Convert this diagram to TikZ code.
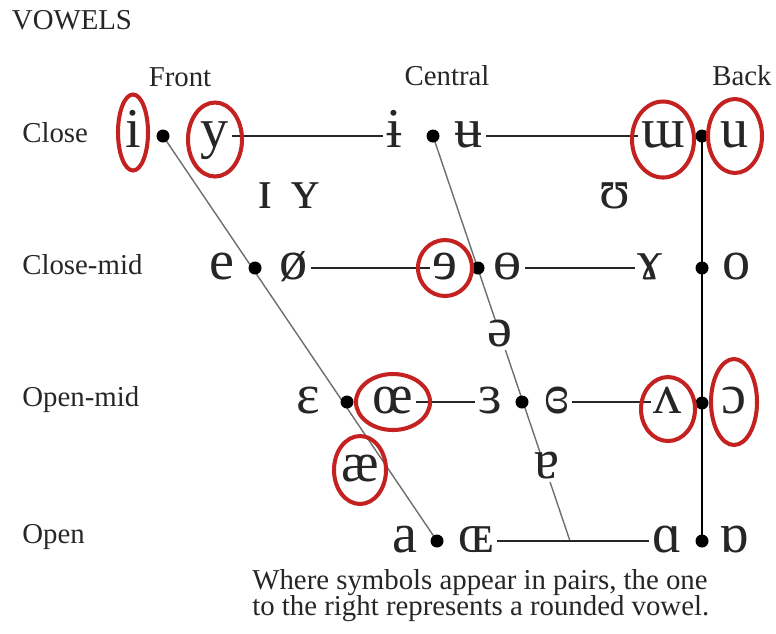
\documentclass[tikz,border=0pt]{standalone}
\usepackage{fontspec}
\setmainfont{Liberation Serif}
\usetikzlibrary{backgrounds}
\definecolor{ink}{HTML}{262626}
\definecolor{ring}{HTML}{C42121}
\definecolor{rule}{HTML}{6E6E6E}
\tikzset{
  vowel/.style={font=\fontsize{32}{32}\selectfont,text=ink,inner sep=1.5pt,text height=13.5pt,text depth=0pt},
  axis/.style={font=\fontsize{16.4}{18}\selectfont,text=ink,inner sep=0pt},
  joint/.style={circle,fill=black,inner sep=0pt,minimum size=7.4pt},
  level/.style={line width=1.1pt,ink},
  slant/.style={line width=0.8pt,rule},
  ring/.style={draw=ring,line width=2.3pt}
}

\begin{document}
\begin{tikzpicture}[x=0.02cm,y=-0.02cm]
  \useasboundingbox (0,0) rectangle (776,633);

  \node[axis] (title) at (72,20) {VOWELS};
  \node[axis] (front) at (180,77) {Front};
  \node[axis] (central) at (447,76) {Central};
  \node[axis] (back) at (742,76) {Back};
  \node[axis,anchor=west] (close) at (22,133) {Close};
  \node[axis,anchor=west] (closemid) at (22,265) {Close-mid};
  \node[axis,anchor=west] (openmid) at (22,400) {Open-mid};
  \node[axis,anchor=west] (open) at (22,537) {Open};

  \node[joint] (dotCF) at (163,136) {};
  \node[joint] (dotCC) at (433,136) {};
  \node[joint] (dotCB) at (702,136) {};
  \node[joint] (dotMF) at (255,268) {};
  \node[joint] (dotMC) at (478,268) {};
  \node[joint] (dotMB) at (702,268) {};
  \node[joint] (dotOMF) at (347,402) {};
  \node[joint] (dotOMC) at (522,402) {};
  \node[joint] (dotOMB) at (702,403) {};
  \node[joint] (dotOF) at (437,541) {};
  \node[joint] (dotOB) at (702,541) {};
  \coordinate (openC) at (570,541);

  \begin{scope}[on background layer]
    \draw[slant] (dotCF.center) -- (dotOF.center);
    \draw[slant] (dotCC.center) -- (openC);
    \draw[line width=1.4pt] (dotCB.center) -- (dotOB.center);
  \end{scope}

  \node[vowel] (iF) at (133,136) {i};
  \node[vowel] (yF) at (215,136) {y};
  \node[vowel] (ibar) at (394,136) {ɨ};
  \node[vowel] (ubar) at (469,136) {ʉ};
  \node[vowel] (uu) at (663,136) {ɯ};
  \node[vowel] (u) at (735,136) {u};

  \node[vowel] (smallI) at (265,197) {ɪ};
  \node[vowel] (smallY) at (305,197) {ʏ};
  \node[vowel] (upsilon) at (615,197) {ʊ};

  \node[vowel] (e) at (222,268) {e};
  \node[vowel] (oslash) at (294,268) {ø};
  \node[vowel] (revE) at (445,268) {ɘ};
  \node[vowel] (barO) at (508,268) {ɵ};
  \node[vowel] (gamma) at (650,268) {ɤ};
  \node[vowel] (o) at (737,268) {o};

  \node[vowel,fill=white] (schwa) at (500,335) {ə};

  \node[vowel] (epsilon) at (308,402) {ɛ};
  \node[vowel] (oe) at (393,402) {œ};
  \node[vowel] (revEps) at (490,402) {ɜ};
  \node[vowel] (closedRevEps) at (557,402) {ɞ};
  \node[vowel] (wedge) at (668,402) {ʌ};
  \node[vowel] (openO) at (734,402) {ɔ};

  \node[vowel] (ash) at (360,470) {æ};
  \node[vowel,fill=white] (turnedA) at (547,467) {ɐ};

  \node[vowel] (a) at (405,541) {a};
  \node[vowel] (smallOE) at (476,541) {ɶ};
  \node[vowel] (script) at (667,541) {ɑ};
  \node[vowel] (turnedScript) at (734,541) {ɒ};

  \draw[level] (yF.east) -- (ibar.west);
  \draw[level] (ubar.east) -- (uu.west);
  \draw[level] (oslash.east) -- (revE.west);
  \draw[level] (barO.east) -- (gamma.west);
  \draw[level] (oe.east) -- (revEps.west);
  \draw[level] (closedRevEps.east) -- (wedge.west);
  \draw[level] (smallOE.east) -- (script.west);

  \draw[ring] ([yshift=2pt]iF.center) ellipse [x radius=15, y radius=38];
  \draw[ring] ([yshift=-2pt]yF.center) ellipse [x radius=27, y radius=37];
  \draw[ring] ([yshift=-2pt]uu.center) ellipse [x radius=31, y radius=38];
  \draw[ring] (u.center) ellipse [x radius=27, y radius=37];
  \draw[ring] (revE.center) ellipse [x radius=27, y radius=28];
  \draw[ring] (oe.center) ellipse [x radius=37, y radius=28];
  \draw[ring] (ash.center) ellipse [x radius=26, y radius=34];
  \draw[ring] ([yshift=-4pt]wedge.center) ellipse [x radius=27, y radius=32];
  \draw[ring] (openO.center) ellipse [x radius=23, y radius=43];

  \node[axis,anchor=north west,align=left,font=\fontsize{16.4}{15}\selectfont] (note) at (252,569)
    {Where symbols appear in pairs, the one\\to the right represents a rounded vowel.};
\end{tikzpicture}
\end{document}
